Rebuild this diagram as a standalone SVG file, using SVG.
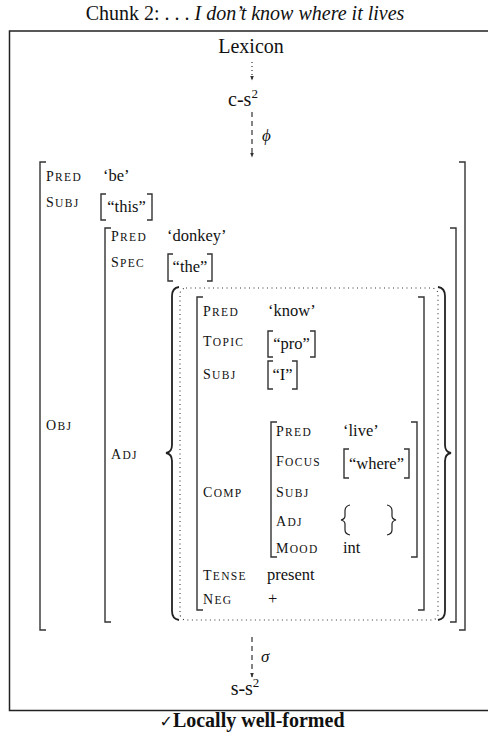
<svg xmlns="http://www.w3.org/2000/svg" width="488" height="738" viewBox="0 0 488 738">
<style>
text{font-family:"Liberation Serif","Times New Roman",serif;fill:#111}
.v{font-size:16.5px}
.q{font-size:16.5px;text-anchor:middle}
.f{font-size:14px;letter-spacing:1.3px}
.f tspan{font-size:11.5px}
.br{fill:none;stroke:#333;stroke-width:1.4}
.brace{fill:none;stroke:#222;stroke-width:1.8}
.dash{fill:none;stroke:#333;stroke-width:1.2;stroke-dasharray:5,4}
.dot{fill:none;stroke:#333;stroke-width:1.2;stroke-dasharray:1,3}
</style>
<defs>
<marker id="ah" viewBox="0 0 10 10" refX="9" refY="5" markerWidth="5" markerHeight="5" orient="auto" markerUnits="userSpaceOnUse">
<path d="M0,1 L10,5 L0,9 z" fill="#333"/>
</marker>
</defs>
<text id="title" x="245" y="20" text-anchor="middle" style="font-size:20px">Chunk 2: . . . <tspan font-style="italic">I don’t know where it lives</tspan></text>
<path d="M488,31 H9.5 V710.5 H488" fill="none" stroke="#222" stroke-width="1.5"/>
<g id="lexicon"><text x="251" y="53" text-anchor="middle" style="font-size:20px">Lexicon</text></g>
<g id="cs"><text x="243" y="106" text-anchor="middle" style="font-size:20px">c-s<tspan dy="-8" style="font-size:13px">2</tspan></text></g>
<g id="connectors">
<path class="dot" d="M252,62 V80" marker-end="url(#ah)"/>
<path class="dash" d="M252,112 V157" marker-end="url(#ah)"/>
<text x="262" y="141" style="font-size:17px;font-style:italic">ϕ</text>
<path class="dash" d="M252,637 V677" marker-end="url(#ah)"/>
<text x="261" y="662" style="font-size:17px;font-style:italic">σ</text>
</g>
<g id="fstructure">
<path class="br" d="M46,162 H40 V630 H46"/>
<path class="br" d="M459,162 H465 V630 H459"/>
<text class="f" x="46" y="181">P<tspan>RED</tspan></text>
<text class="v" x="103" y="181">‘be’</text>
<text class="f" x="46" y="207">S<tspan>UBJ</tspan></text>
<path class="br" d="M106,194 H101 V220 H106"/>
<text class="q" x="126.5" y="212">“this”</text>
<path class="br" d="M147,194 H152 V220 H147"/>
<text class="f" x="46" y="430">O<tspan>BJ</tspan></text>
<path class="br" d="M111,228 H105 V622 H111"/>
<path class="br" d="M450,228 H456 V622 H450"/>
<text class="f" x="111" y="241">P<tspan>RED</tspan></text>
<text class="v" x="167" y="241">‘donkey’</text>
<text class="f" x="111" y="267">S<tspan>PEC</tspan></text>
<path class="br" d="M173,254 H168 V281 H173"/>
<text class="q" x="190" y="272">“the”</text>
<path class="br" d="M207,254 H212 V281 H207"/>
<text class="f" x="111" y="459">A<tspan>DJ</tspan></text>
<path class="brace" d="M179,287 Q172,288 172,296 V445 Q172,452 166,453 Q172,454 172,461 V611 Q172,619 179,620"/>
<path class="brace" d="M438,287 Q445,288 445,296 V445 Q445,452 451,453 Q445,454 445,461 V611 Q445,619 438,620"/>
<rect x="180" y="288" width="258" height="332" rx="6" fill="none" stroke="#333" stroke-width="1.1" stroke-dasharray="1,3.5"/>
<path class="br" d="M203,297 H197 V610 H203"/>
<path class="br" d="M418,297 H424 V610 H418"/>
<text class="f" x="203" y="316">P<tspan>RED</tspan></text>
<text class="v" x="268" y="316">‘know’</text>
<text class="f" x="203" y="346">T<tspan>OPIC</tspan></text>
<path class="br" d="M273,331 H268 V357 H273"/>
<text class="q" x="291.5" y="349">“pro”</text>
<path class="br" d="M310,331 H315 V357 H310"/>
<text class="f" x="203" y="379">S<tspan>UBJ</tspan></text>
<path class="br" d="M273,361 H268 V389 H273"/>
<text class="q" x="282.5" y="380">“I”</text>
<path class="br" d="M292,361 H297 V389 H292"/>
<text class="f" x="203" y="497">C<tspan>OMP</tspan></text>
<path class="br" d="M277,422 H271 V557 H277"/>
<path class="br" d="M411,422 H417 V557 H411"/>
<text class="f" x="276" y="436">P<tspan>RED</tspan></text>
<text class="v" x="343" y="436">‘live’</text>
<text class="f" x="276" y="466">F<tspan>OCUS</tspan></text>
<path class="br" d="M349,449 H344 V478 H349"/>
<text class="q" x="376.5" y="469">“where”</text>
<path class="br" d="M404,449 H409 V478 H404"/>
<text class="f" x="276" y="497">S<tspan>UBJ</tspan></text>
<text class="f" x="276" y="526">A<tspan>DJ</tspan></text>
<path class="brace" style="stroke-width:1.2" d="M350,505 Q345,506 345,511 V516 Q345,519 341,520 Q345,521 345,524 V530 Q345,534 350,535"/>
<path class="brace" style="stroke-width:1.2" d="M387,505 Q392,506 392,511 V516 Q392,519 396,520 Q392,521 392,524 V530 Q392,534 387,535"/>
<text class="f" x="276" y="553">M<tspan>OOD</tspan></text>
<text class="v" x="343" y="553">int</text>
<text class="f" x="203" y="580">T<tspan>ENSE</tspan></text>
<text class="v" x="267" y="580">present</text>
<text class="f" x="203" y="604">N<tspan>EG</tspan></text>
<text class="v" x="268" y="604">+</text>
</g>
<g id="ss"><text x="245" y="695" text-anchor="middle" style="font-size:20px">s-s<tspan dy="-8" style="font-size:13px">2</tspan></text></g>
<text id="caption" x="252" y="727" text-anchor="middle" style="font-size:20px;font-weight:bold"><tspan style="font-family:'DejaVu Sans',sans-serif;font-weight:normal;font-size:16px">✓</tspan>Locally well-formed</text>
</svg>
